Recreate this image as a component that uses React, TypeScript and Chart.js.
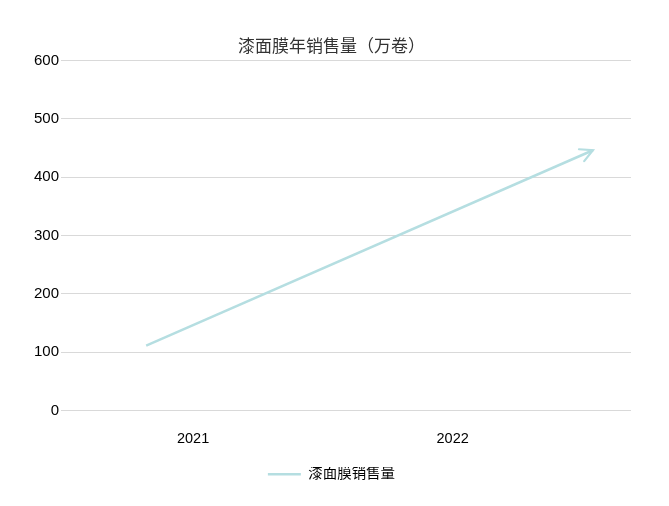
import React, { useEffect, useRef } from 'react';
import { Chart, registerables } from 'chart.js';

Chart.register(...registerables);

const years = ['2021', '2022'];
const sales = [111, 446];
const yMin = 0;
const yMax = 600;
const yStep = 100;
const titleText = '漆面膜年销售量（万卷）';
const seriesName = '漆面膜销售量';

const FONT = "'Liberation Sans', 'Noto Sans CJK SC', Arial, sans-serif";
const LINE_COLOR = '#b5dee1';
const labelSpots = [0.105, 0.686];

const arrowPlugin = {
  id: 'arrowHead',
  afterDatasetsDraw(chart: any) {
    const meta = chart.getDatasetMeta(0);
    const pts = meta.data;
    if (!pts || pts.length < 2) return;
    const a = pts[pts.length - 2];
    const b = pts[pts.length - 1];
    const ang = Math.atan2(b.y - a.y, b.x - a.x);
    const len = 14;
    const spread = Math.PI / 6.5;
    const ctx = chart.ctx;
    ctx.save();
    ctx.strokeStyle = LINE_COLOR;
    ctx.lineWidth = 2.2;
    ctx.lineCap = 'round';
    ctx.beginPath();
    ctx.moveTo(b.x - len * Math.cos(ang - spread), b.y - len * Math.sin(ang - spread));
    ctx.lineTo(b.x, b.y);
    ctx.lineTo(b.x - len * Math.cos(ang + spread), b.y - len * Math.sin(ang + spread));
    ctx.stroke();
    ctx.restore();
  },
};

export default function App() {
  const ref = useRef<HTMLCanvasElement | null>(null);

  useEffect(() => {
    document.body.style.margin = '0';
    const canvas = ref.current;
    if (!canvas) return;
    const chart = new Chart(canvas, {
      type: 'line',
      data: {
        datasets: [
          {
            label: seriesName,
            data: sales.map((v, i) => ({ x: i, y: v })),
            borderColor: LINE_COLOR,
            backgroundColor: LINE_COLOR,
            borderWidth: 2.5,
            pointRadius: 0,
            pointHoverRadius: 0,
            tension: 0,
            fill: false,
          },
        ],
      },
      options: {
        responsive: false,
        animation: false,
        devicePixelRatio: 1,
        layout: { padding: { left: 32, right: 38, top: 0, bottom: 14.5 } },
        plugins: {
          title: {
            display: true,
            text: titleText,
            color: '#333333',
            font: { family: FONT, size: 17, weight: 'normal' },
            padding: { top: 37, bottom: 3 },
          },
          legend: {
            display: true,
            position: 'bottom',
            labels: {
              usePointStyle: true,
              pointStyle: 'line',
              pointStyleWidth: 33,
              color: '#000000',
              padding: 0,
              font: { family: FONT, size: 14.5 },
            },
          },
          tooltip: { enabled: false },
        },
        scales: {
          x: {
            type: 'linear',
            min: -0.1906,
            max: 1.0852,
            grid: { display: false, drawTicks: false },
            border: { display: false },
            afterBuildTicks: (axis: any) => {
              axis.ticks = labelSpots.map((v) => ({ value: v }));
            },
            ticks: {
              autoSkip: false,
              maxRotation: 0,
              padding: 19.6,
              color: '#000000',
              font: { family: FONT, size: 14.5 },
              callback: (_v: any, i: number) => years[i],
            },
          },
          y: {
            min: yMin,
            max: yMax,
            grid: { color: '#d9d9d9', lineWidth: 1, drawTicks: false },
            border: { display: false },
            ticks: {
              stepSize: yStep,
              padding: 2,
              color: '#000000',
              font: { family: FONT, size: 15 },
            },
          },
        },
      },
      plugins: [arrowPlugin],
    });
    return () => chart.destroy();
  }, []);

  return (
    <div style={{ position: 'fixed', left: 0, top: 0, width: 669, height: 506, background: '#fff' }}>
      <canvas ref={ref} width={669} height={506} style={{ display: 'block' }} />
    </div>
  );
}
